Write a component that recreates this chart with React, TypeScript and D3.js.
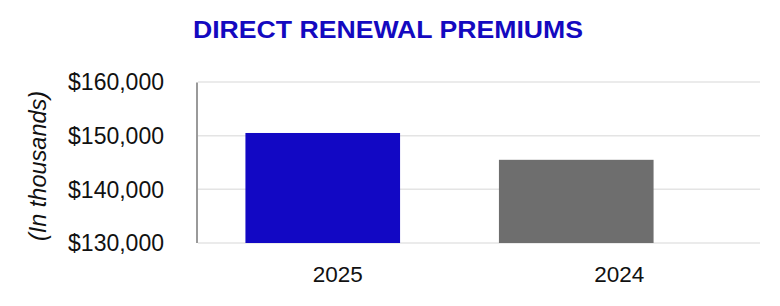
import React from "react";
import * as d3 from "d3";

const categories = ["2025", "2024"];
const values = [150500, 145500];
const barColors = ["#1208C4", "#6E6E6E"];
const yTicks = [130000, 140000, 150000, 160000];
const title = "DIRECT RENEWAL PREMIUMS";
const yAxisTitle = "(In thousands)";

const W = 780;
const H = 306;
const FONT = "'Liberation Sans', Arial, Helvetica, sans-serif";

export default function App() {
  const y = d3.scaleLinear().domain([130000, 160000]).range([243, 82]);
  const xBars = d3
    .scaleBand<string>()
    .domain(categories)
    .range([196, 703])
    .paddingInner(0.39)
    .paddingOuter(0.195);
  const xLabels = d3.scaleBand<string>().domain(categories).range([197, 760]);
  const fmt = (v: number) => "$" + d3.format(",")(v);

  return (
    <svg
      width={W}
      height={H}
      style={{ position: "absolute", left: 0, top: 0, background: "#fff" }}
      fontFamily={FONT}
    >
      <text
        x={193}
        y={38}
        fontSize={24}
        fontWeight="bold"
        fill="#1409C0"
        textLength={390}
        lengthAdjust="spacingAndGlyphs"
      >
        {title}
      </text>
      {yTicks.map((t) => (
        <line
          key={"g" + t}
          x1={198}
          x2={760}
          y1={y(t)}
          y2={y(t)}
          stroke="#E4E4E4"
          strokeWidth={1.5}
        />
      ))}
      {categories.map((c, i) => (
        <rect
          key={c}
          x={xBars(c)}
          width={xBars.bandwidth()}
          y={y(values[i])}
          height={y(130000) - y(values[i])}
          fill={barColors[i]}
        />
      ))}
      <line x1={197} x2={197} y1={y(160000) + 0.5} y2={y(130000)} stroke="#9A9A9A" strokeWidth={2} />
      {yTicks.map((t) => (
        <text
          key={"t" + t}
          x={164}
          y={y(t)}
          dy="0.36em"
          textAnchor="end"
          fontSize={23}
          fill="#111"
        >
          {fmt(t)}
        </text>
      ))}
      {categories.map((c) => (
        <text
          key={"l" + c}
          x={(xLabels(c) as number) + xLabels.bandwidth() / 2}
          y={282}
          textAnchor="middle"
          fontSize={22.5}
          fill="#111"
        >
          {c}
        </text>
      ))}
      <text
        transform={`translate(46,166) rotate(-90)`}
        textAnchor="middle"
        fontSize={23.5}
        fontStyle="italic"
        fill="#111"
      >
        {yAxisTitle}
      </text>
    </svg>
  );
}
